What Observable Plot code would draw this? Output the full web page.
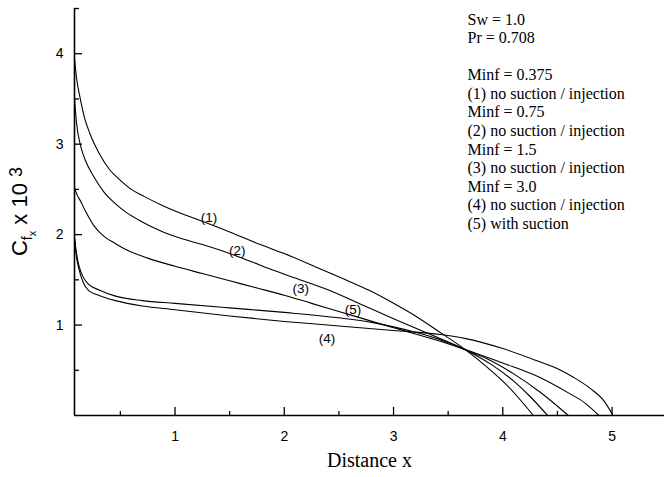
<!DOCTYPE html>
<html><head><meta charset="utf-8">
<script src="https://cdn.jsdelivr.net/npm/d3@7"></script>
<script src="https://cdn.jsdelivr.net/npm/@observablehq/plot@0.6"></script>
<style>body{margin:0;background:#fff}</style>
</head><body><div id="chart"></div>
<script>
// Series values
const s1X = [0.08,0.1,0.13,0.17,0.22,0.3,0.4,0.5,0.6,0.72,0.87,1.0,1.2,1.5,1.78,2.0,2.33,2.6,2.8,3.0,3.2,3.4,3.66,3.85,4.05,4.28];
const s1Y = [3.94,3.72,3.52,3.3,3.12,2.91,2.72,2.6,2.5,2.42,2.33,2.26,2.17,2.03,1.89,1.79,1.62,1.48,1.37,1.24,1.1,0.94,0.725,0.54,0.32,0];
const s2X = [0.08,0.1,0.136,0.18,0.257,0.35,0.456,0.56,0.7,0.87,1.05,1.25,1.48,1.7,1.87,2.1,2.4,2.7,3.0,3.35,3.66,3.9,4.1,4.25,4.41];
const s2Y = [3.5,3.22,2.98,2.82,2.64,2.47,2.34,2.24,2.14,2.04,1.96,1.89,1.8,1.7,1.62,1.52,1.39,1.23,1.07,0.89,0.725,0.56,0.38,0.21,0];
const s3X = [0.08,0.1,0.136,0.18,0.257,0.35,0.456,0.56,0.75,1.0,1.25,1.5,1.75,2.0,2.25,2.5,2.75,3.0,3.35,3.66,3.85,4.1,4.34,4.6];
const s3Y = [2.52,2.45,2.37,2.26,2.1,1.98,1.9,1.83,1.74,1.65,1.57,1.49,1.41,1.33,1.24,1.15,1.06,0.97,0.85,0.725,0.63,0.46,0.26,0];
const s4X = [0.08,0.1,0.12,0.16,0.21,0.3,0.456,0.7,1.0,1.5,2.0,2.5,3.0,3.43,3.66,4.0,4.3,4.53,4.65,4.8,4.92,5.01];
const s4Y = [1.95,1.74,1.62,1.47,1.38,1.33,1.27,1.21,1.17,1.1,1.04,0.99,0.94,0.895,0.85,0.74,0.61,0.5,0.42,0.3,0.17,0];
const s5X = [0.08,0.1,0.12,0.16,0.21,0.3,0.456,0.7,1.0,1.5,2.0,2.5,2.8,3.0,3.2,3.4,3.66,4.0,4.34,4.6,4.75,4.88];
const s5Y = [1.97,1.78,1.66,1.53,1.45,1.39,1.32,1.27,1.24,1.19,1.14,1.08,1.03,0.98,0.92,0.85,0.73,0.58,0.42,0.25,0.14,0];

const curveLabels = ["(1)","(2)","(3)","(4)","(5)"];
const curveLabelX = [1.31,1.57,2.15,2.39,2.63];
const curveLabelY = [2.19,1.82,1.40,0.85,1.17];

const legendLines = ["Sw = 1.0","Pr = 0.708","","Minf = 0.375","(1) no suction / injection","Minf = 0.75","(2) no suction / injection","Minf = 1.5","(3) no suction / injection","Minf = 3.0","(4) no suction / injection","(5) with suction"];

const majorX = [1,2,3,4,5];
const minorX = [0.5,1.5,2.5,3.5,4.5];
const majorY = [1,2,3,4];
const minorY = [0.5,1.5,2.5,3.5,4.5];

const series = [[s1X,s1Y],[s2X,s2Y],[s3X,s3Y],[s4X,s4Y],[s5X,s5Y]];
const rows = series.flatMap(([xs,ys],k)=>xs.map((x,i)=>({x, y: ys[i], s: k})));
const labels = curveLabels.map((t,i)=>({t, x: curveLabelX[i], y: curveLabelY[i]}));

const W = 664, H = 477, mL = 74, mR = 0, mT = 8, mB = 62;
const fw = W - mL - mR, fh = H - mT - mB;
const sans = "Liberation Sans, Arial, sans-serif";
const serif = "Liberation Serif, Times New Roman, serif";

const chart = Plot.plot({
  width: W, height: H,
  marginLeft: mL, marginRight: mR, marginTop: mT, marginBottom: mB,
  style: {fontFamily: sans, background: "#fff", color: "#000"},
  x: {domain: [0.08, 5.48]},
  y: {domain: [0, 4.5]},
  marks: [
    Plot.line(rows, {x: "x", y: "y", z: "s", stroke: "#000", strokeWidth: 1.1, curve: "monotone-x"}),
    Plot.ruleY([0], {stroke: "#000", strokeWidth: 1.6}),
    Plot.ruleX([0.08], {stroke: "#000", strokeWidth: 1.6}),
    Plot.tickX(majorX, {x: d=>d, insetTop: fh - 8, stroke: "#000", strokeWidth: 1.3}),
    Plot.tickX(minorX, {x: d=>d, insetTop: fh - 4, stroke: "#000", strokeWidth: 1.3}),
    Plot.tickY(majorY, {y: d=>d, insetRight: fw - 8, stroke: "#000", strokeWidth: 1.3}),
    Plot.tickY(minorY, {y: d=>d, insetRight: fw - 5, stroke: "#000", strokeWidth: 1.3}),
    Plot.axisX({ticks: majorX, tickSize: 0, tickPadding: 16, label: null, fontSize: 14, fill: "#000", tickFormat: d=>String(d)}),
    Plot.axisY({ticks: majorY, tickSize: 0, tickPadding: 11, label: null, fontSize: 14, fill: "#000", tickFormat: d=>String(d)}),
    Plot.text(labels, {x: "x", y: "y", text: "t", fontSize: 13.5, fill: "#000", fontFamily: sans}),
    Plot.text([legendLines.join("\n")], {frameAnchor: "top-left", dx: 393, dy: 3, lineAnchor: "top", textAnchor: "start", lineHeight: 1.16, fontSize: 16, fontFamily: serif, fill: "#000"}),
    Plot.text(["Distance x"], {frameAnchor: "bottom", dy: 51, fontSize: 20, fontFamily: serif, fill: "#000"})
  ]
});

// y-axis label with subscripts and superscript
const svg = d3.select(chart);
const t = svg.append("text")
  .attr("transform", `translate(27,${mT + fh/2}) rotate(-90)`)
  .attr("text-anchor", "middle")
  .attr("font-family", sans)
  .attr("font-size", 22)
  .attr("fill", "#000");
t.append("tspan").text("C");
t.append("tspan").attr("font-size", 14).attr("dy", 5).text("f");
t.append("tspan").attr("font-size", 11).attr("dy", 4).text("x");
t.append("tspan").attr("font-size", 22).attr("dy", -9).text(" x 10 ");
t.append("tspan").attr("font-size", 18).attr("dy", -5).text("3");

document.getElementById("chart").appendChild(chart);
</script>
</body></html>
